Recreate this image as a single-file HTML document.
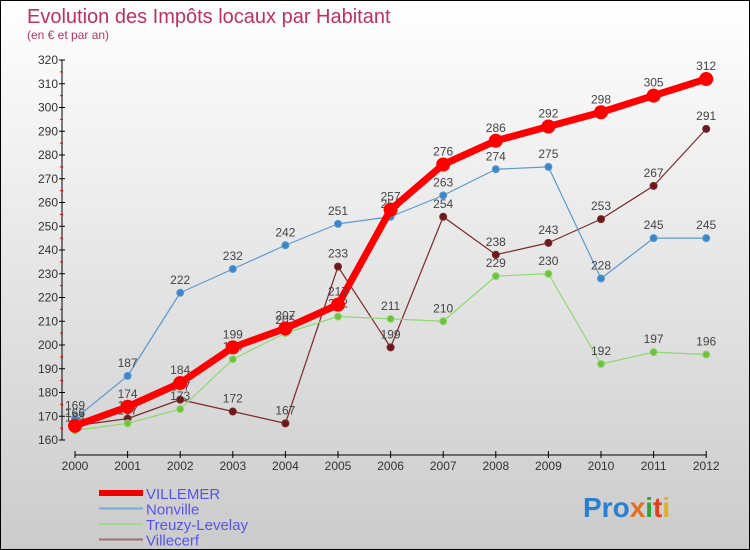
<!DOCTYPE html>
<html><head><meta charset="utf-8"><style>
body{margin:0}
#wrap{position:relative;width:748px;height:548px;border:1px solid #000;background:linear-gradient(#fff,#cbcbcb);font-family:"Liberation Sans",sans-serif;overflow:hidden}
</style></head><body>
<div id="wrap">
<svg id="svg" width="748" height="548" xmlns="http://www.w3.org/2000/svg">
<text x="26" y="22" font-size="20" fill="#c0305f">Evolution des Impôts locaux par Habitant</text>
<text x="26" y="38" font-size="12" fill="#c0305f">(en € et par an)</text>
<g id="axes"></g><g id="series"></g><g id="legend"></g>
<text x="582" y="516" font-size="28" font-weight="bold"><tspan fill="#2a7fd0">Pro</tspan><tspan fill="#e07020">x</tspan><tspan fill="#30a040">i</tspan><tspan fill="#e04020">t</tspan><tspan fill="#e0b020">i</tspan></text>
</svg></div>
<script>
const years=[2000,2001,2002,2003,2004,2005,2006,2007,2008,2009,2010,2011,2012];
const villemer=[166,174,184,199,207,217,257,276,286,292,298,305,312];
const nonville=[169,187,222,232,242,251,254,263,274,275,228,245,245];
const treuzy=[164,167,173,194,205,212,211,210,229,230,192,197,196];
const villecerf=[166,169,177,172,167,233,199,254,238,243,253,267,291];
const yTicks=[160,170,180,190,200,210,220,230,240,250,260,270,280,290,300,310,320];
const NS="http://www.w3.org/2000/svg";
const X=i=>74+i*52.6, Y=v=>439-(v-160)*2.375;
function mk(t,a,p){const e=document.createElementNS(NS,t);for(const k in a)e.setAttribute(k,a[k]);p.appendChild(e);return e;}
const ax=document.getElementById('axes');
let l=mk('line',{x1:61,y1:Y(160),x2:61,y2:Y(320),stroke:'#000'},ax);

l=mk('line',{x1:X(0),y1:454,x2:X(12),y2:454,stroke:'#000'},ax);

yTicks.forEach(v=>{mk('line',{x1:58,y1:Y(v),x2:64,y2:Y(v),stroke:'#000'},ax);
 if(v<320)mk('line',{x1:59,y1:Y(v+5),x2:62,y2:Y(v+5),stroke:'#e00'},ax);
 const t=mk('text',{x:57,y:Y(v)+4,'text-anchor':'end','font-size':12,fill:'#333'},ax);t.textContent=v;
 });
years.forEach((y,i)=>{mk('line',{x1:X(i),y1:450,x2:X(i),y2:457,stroke:'#000'},ax);
 const t=mk('text',{x:X(i),y:469,'text-anchor':'middle','font-size':12,fill:'#333'},ax);t.textContent=y;
 });
const S=document.getElementById('series');
function draw(name,d,col,w,r,dot){const g=mk('g',{},S);
 
 const p=mk('polyline',{points:d.map((v,i)=>X(i)+','+Y(v)).join(' '),fill:'none',stroke:col,'stroke-width':w,'stroke-linejoin':'round'},g);
 
 d.forEach((v,i)=>{const c=mk('circle',{cx:X(i),cy:Y(v),r:r,fill:dot,stroke:col,'stroke-width':1},g);
  
  const t=mk('text',{x:X(i),y:Y(v)-9,'text-anchor':'middle','font-size':12,fill:'#444'},g);t.textContent=v;
  });}
draw('villecerf',villecerf,'#7a2a2a',1.2,3.5,'#6a1a1a');
draw('treuzy',treuzy,'#90d870',1.2,3.5,'#70c040');
draw('nonville',nonville,'#5a9ad0',1.2,3.5,'#3a86c8');
draw('villemer',villemer,'#f00',7,6.5,'#f00');
const L=document.getElementById('legend');
[['VILLEMER','#e00',6,'villemer'],['Nonville','#7aaed0',2,'nonville'],['Treuzy-Levelay','#a0d890',2,'treuzy'],['Villecerf','#a07070',2,'villecerf']].forEach((s,i)=>{
 const y=492+i*15.5;
 const ln=mk('line',{x1:98,y1:y,x2:142,y2:y,stroke:s[1],'stroke-width':s[2]},L);
 
 const t=mk('text',{x:145,y:y+6,'font-size':15,fill:'#5555ee'},L);t.textContent=s[0];
 });
</script>
</body></html>
